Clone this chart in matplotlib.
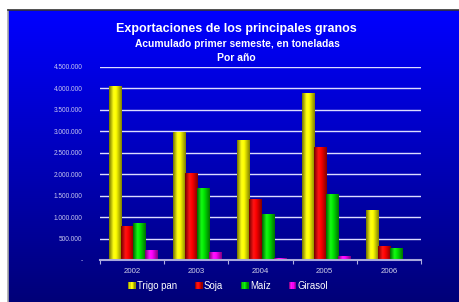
import matplotlib
matplotlib.use("Agg")
import matplotlib.pyplot as plt
import numpy as np
from matplotlib.colors import LinearSegmentedColormap
from matplotlib.patches import Patch, Rectangle
from matplotlib.legend_handler import HandlerBase
from matplotlib.ticker import FuncFormatter, MultipleLocator, FixedLocator

plt.rcParams['font.family'] = ['Liberation Sans', 'DejaVu Sans']

years = ["2002", "2003", "2004", "2005", "2006"]
series = ["Trigo pan", "Soja", "Maíz", "Girasol"]
trigo = [4050000, 2990000, 2790000, 3890000, 1160000]
soja = [800000, 2030000, 1420000, 2630000, 330000]
maiz = [860000, 1680000, 1070000, 1540000, 290000]
girasol = [233000, 186000, 40000, 90000, 12000]
values = [trigo, soja, maiz, girasol]
yticks = [0, 500000, 1000000, 1500000, 2000000, 2500000, 3000000, 3500000, 4000000, 4500000]

base_colors = [(1, 1, 0), (1, 0, 0), (0, 0.9, 0), (1, 0, 1)]

def make_cmap(i, c):
    c = np.array(c)
    return LinearSegmentedColormap.from_list(
        'cyl%d' % i,
        [(0.0, c * 0.45), (0.35, np.minimum(c + 0.08, 1)), (0.55, c), (1.0, c * 0.5)])

cmaps = [make_cmap(i, c) for i, c in enumerate(base_colors)]

W, H = 460, 302
fig = plt.figure(figsize=(W / 100, H / 100), dpi=100)
fig.patch.set_facecolor('white')

# background gradient panel
bg = fig.add_axes([8 / W, 0, (W - 8) / W, (H - 10) / H])
grad = np.linspace(0, 1, 256).reshape(-1, 1)
bg_cmap = LinearSegmentedColormap.from_list('bg', [(0, 0, 1.0), (0, 0, 0.47)])
bg.imshow(grad, aspect='auto', cmap=bg_cmap, extent=[0, 1, 0, 1], origin='upper')
bg.set_xlim(0, 1)
bg.set_ylim(0, 1)
bg.set_xticks([])
bg.set_yticks([])
bg.spines['top'].set_color('#333333')
bg.spines['left'].set_color('#aaaaaa')
bg.spines['right'].set_visible(False)
bg.spines['bottom'].set_visible(False)
for s in ['top', 'left']:
    bg.spines[s].set_linewidth(1.2)

# main axes
left, right, top, bottom = 100, 421, 66.7, 260
ax = fig.add_axes([left / W, (H - bottom) / H, (right - left) / W, (bottom - top) / H])
ax.set_facecolor('none')
ax.set_xlim(0, len(years))
ax.set_ylim(0, 4500000)

lav = '#dcdcff'
for yv in yticks[1:]:
    ax.axhline(yv, color=lav, lw=1.0, zorder=1)

bw = 12 / 64
offset0 = 9 / 64
x = np.arange(len(years))
for si, (vals, c) in enumerate(zip(values, base_colors)):
    bars = ax.bar(x + offset0 + si * bw, vals, width=bw, align='edge',
                  color=c, edgecolor='none', zorder=2)
    hg = np.linspace(0, 1, 64).reshape(1, -1)
    for b in bars:
        x0, w, h = b.get_x(), b.get_width(), b.get_height()
        im = ax.imshow(hg, aspect='auto', cmap=cmaps[si], extent=[x0, x0 + w, 0, h],
                       zorder=3, interpolation='bilinear')
        im.set_clip_path(b)

ax.set_xlim(0, len(years))
ax.set_ylim(0, 4500000)

def fmt(v, pos):
    if v == 0:
        return '-'
    return f"{int(v):,}".replace(',', '.')

ax.yaxis.set_major_locator(FixedLocator(yticks))
ax.yaxis.set_major_formatter(FuncFormatter(fmt))
ax.tick_params(axis='y', length=0, pad=12.5, labelsize=4.7, labelcolor='#c8c8f0')

ax.set_xticks(x + 0.5)
ax.set_xticklabels(years)
ax.xaxis.set_minor_locator(MultipleLocator(1))
ax.tick_params(axis='x', which='major', length=0, pad=6, labelsize=5.7, labelcolor='#d0d0e8')
ax.tick_params(axis='x', which='minor', length=3, direction='out', color='#b0b0e0', width=0.8)

for s in ['top', 'right', 'left']:
    ax.spines[s].set_visible(False)
ax.spines['bottom'].set_color('#a8a8dc')
ax.spines['bottom'].set_linewidth(1.5)
ax.spines['bottom'].set_zorder(4)

# titles
fig.text(236 / W, 1 - 29 / H, "Exportaciones de los principales granos", color='white',
         fontsize=9.0, fontweight='bold', ha='center', va='center')
fig.text(237 / W, 1 - 44 / H, "Acumulado primer semeste, en toneladas", color='white',
         fontsize=7.4, fontweight='bold', ha='center', va='center')
fig.text(236 / W, 1 - 58 / H, "Por año", color='white',
         fontsize=7.5, fontweight='bold', ha='center', va='center')


class GradHandler(HandlerBase):
    def __init__(self, cmap):
        super().__init__()
        self.cmap = cmap

    def create_artists(self, legend, orig_handle, xdescent, ydescent, width, height,
                       fontsize, trans):
        n = 6
        arts = []
        for k in range(n):
            r = Rectangle((xdescent * 0 + width * k / n, 0), width / n + 0.3, height,
                          facecolor=self.cmap((k + 0.5) / n), edgecolor='none',
                          transform=trans)
            arts.append(r)
        return arts


handles = [Patch(facecolor=c, edgecolor='none') for c in base_colors]
hmap = {h: GradHandler(cm) for h, cm in zip(handles, cmaps)}
leg = fig.legend(handles, series, loc='center', bbox_to_anchor=(228 / W, 1 - 286 / H),
                 ncol=4, frameon=False, fontsize=6.9, labelcolor='white',
                 handlelength=0.75, handleheight=0.75, handletextpad=0.15,
                 columnspacing=1.9, borderpad=0, handler_map=hmap)

fig.savefig('out.png', dpi=100, facecolor=fig.get_facecolor())
